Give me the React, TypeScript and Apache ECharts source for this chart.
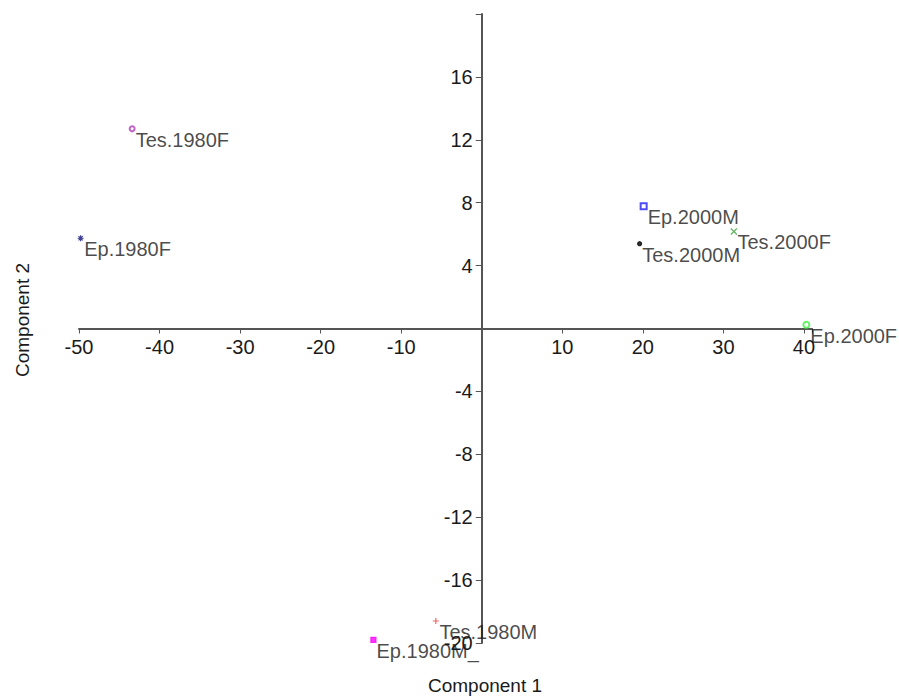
import React, { useEffect, useRef } from "react";
import * as echarts from "echarts";

const names = ["Tes.1980F", "Ep.1980F", "Ep.2000M", "Tes.2000F", "Tes.2000M", "Ep.2000F", "Tes.1980M", "Ep.1980M_"];
const comp1 = [-43.4, -49.8, 20.1, 31.3, 19.6, 40.3, -5.7, -13.45];
const comp2 = [12.7, 5.74, 7.78, 6.17, 5.39, 0.24, -18.6, -19.8];

const xTicks = [-50, -40, -30, -20, -10, 10, 20, 30, 40];
const yTicks = [-20, -16, -12, -8, -4, 4, 8, 12, 16];

const PLUS = "path://M5,0L5,10M0,5L10,5";
const CROSS = "path://M0,0L10,10M10,0L0,10";
const STAR = "path://M5,0L5,10M0,5L10,5M1.5,1.5L8.5,8.5M8.5,1.5L1.5,8.5";

const markStyles = [
  { symbol: "emptyCircle", size: 5, color: "#b03cb8", stroke: false },
  { symbol: STAR, size: 6, color: "#10107a", stroke: true },
  { symbol: "emptyRect", size: 6, color: "#2020f0", stroke: false },
  { symbol: CROSS, size: 6, color: "#3aa03a", stroke: true },
  { symbol: "circle", size: 4, color: "#000000", stroke: false },
  { symbol: "emptyCircle", size: 6, color: "#3cf03c", stroke: false },
  { symbol: PLUS, size: 6, color: "#f03c3c", stroke: true },
  { symbol: "rect", size: 5, color: "#ff00ff", stroke: false },
];

const FONT = "Liberation Sans, Arial, sans-serif";
const W = 899;
const H = 696;
const G_LEFT = 79;
const G_RIGHT = 87;
const G_TOP = 14;
const G_BOTTOM = 53;
const X_MIN = -50;
const X_MAX = 41;
const Y_MIN = -20;
const Y_MAX = 20;

export default function App() {
  const ref = useRef<HTMLDivElement>(null);
  useEffect(() => {
    if (!ref.current) return;
    const chart = echarts.init(ref.current, undefined, { renderer: "svg" });
    const gw = W - G_LEFT - G_RIGHT;
    const gh = H - G_TOP - G_BOTTOM;
    // shift axes so that they cross at the origin
    const xOffset = -(gh * (0 - Y_MIN)) / (Y_MAX - Y_MIN);
    const yOffset = -(gw * (0 - X_MIN)) / (X_MAX - X_MIN);
    const data = names.map((n, i) => {
      const s = markStyles[i];
      return {
        name: n,
        value: [comp1[i], comp2[i]],
        symbol: s.symbol,
        symbolSize: s.size,
        itemStyle: s.stroke
          ? { color: "rgba(0,0,0,0)", borderColor: s.color, borderWidth: 1.2 }
          : { color: s.color, borderColor: s.color, borderWidth: 1.2 },
      };
    });
    chart.setOption({
      animation: false,
      backgroundColor: "#ffffff",
      grid: { left: G_LEFT, right: G_RIGHT, top: G_TOP, bottom: G_BOTTOM, containLabel: false },
      xAxis: {
        type: "value",
        position: "bottom",
        offset: xOffset,
        min: X_MIN,
        max: X_MAX,
        interval: 10,
        splitLine: { show: false },
        axisLine: { onZero: false, lineStyle: { color: "#555555", width: 2 } },
        axisTick: { length: 5, lineStyle: { color: "#555555", width: 1 } },
        axisLabel: {
          margin: 8,
          fontSize: 20,
          fontFamily: FONT,
          color: "#1a1a1a",
          formatter: (v: number) => (xTicks.includes(v) ? String(v) : ""),
        },
      },
      yAxis: {
        type: "value",
        position: "left",
        offset: yOffset,
        min: Y_MIN,
        max: Y_MAX,
        interval: 4,
        splitLine: { show: false },
        axisLine: { onZero: false, lineStyle: { color: "#555555", width: 2 } },
        axisTick: { length: 6, lineStyle: { color: "#555555", width: 1 } },
        axisLabel: {
          margin: 9,
          fontSize: 20,
          fontFamily: FONT,
          color: "#1a1a1a",
          formatter: (v: number) => (yTicks.includes(v) ? String(v) : ""),
        },
      },
      graphic: [
        {
          type: "text",
          x: 485,
          y: 685,
          style: {
            text: "Component 1",
            font: `19px ${FONT}`,
            fill: "#1a1a1a",
            align: "center",
            verticalAlign: "middle",
          },
        },
        {
          type: "text",
          x: 22,
          y: 320,
          rotation: Math.PI / 2,
          style: {
            text: "Component 2",
            font: `19px ${FONT}`,
            fill: "#1a1a1a",
            align: "center",
            verticalAlign: "middle",
          },
        },
      ],
      series: [
        {
          type: "scatter",
          data,
          label: {
            show: true,
            formatter: "{b}",
            position: "right",
            distance: 0,
            offset: [0, 11],
            fontSize: 20,
            fontFamily: FONT,
            color: "#1a1a1a",
          },
          emphasis: { disabled: true },
        },
      ],
    });
    return () => chart.dispose();
  }, []);
  return (
    <div
      ref={ref}
      style={{ position: "fixed", left: 0, top: 0, width: W, height: H }}
    />
  );
}
